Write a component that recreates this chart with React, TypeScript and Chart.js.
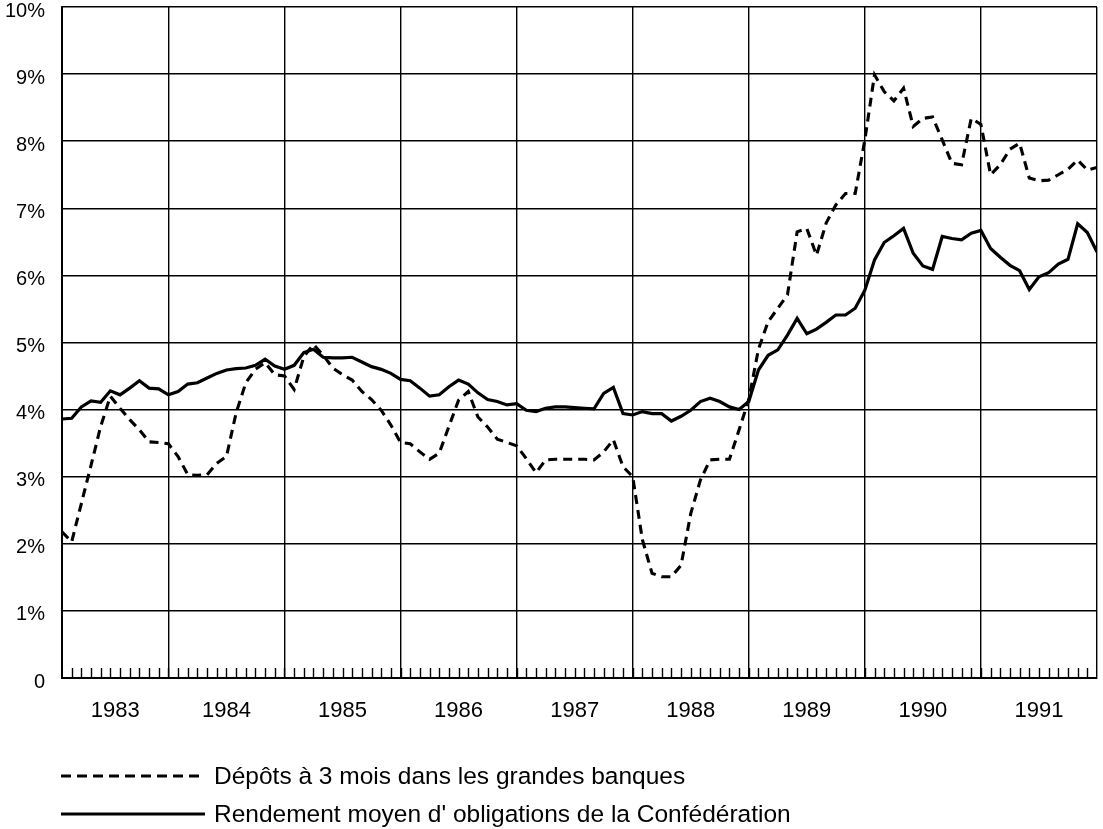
import React, { useEffect, useRef } from 'react';
import { Chart, registerables } from 'chart.js';

Chart.register(...registerables);

// Month-end observations, Jan 1983 .. Dec 1991 (108 values each), in %
const years = ['1983', '1984', '1985', '1986', '1987', '1988', '1989', '1990', '1991'];

const depositRates = [
  2.18, 2.03, 2.6, 3.17, 3.75, 4.2, 4.02, 3.85, 3.7, 3.52, 3.51, 3.49,
  3.3, 3.03, 3.02, 3.03, 3.2, 3.3, 3.95, 4.4, 4.6, 4.7, 4.52, 4.5,
  4.3, 4.79, 4.97, 4.81, 4.62, 4.52, 4.44, 4.27, 4.15, 3.99, 3.77, 3.51,
  3.49, 3.37, 3.26, 3.35, 3.75, 4.14, 4.27, 3.89, 3.74, 3.56, 3.51, 3.46,
  3.27, 3.06, 3.25, 3.26, 3.26, 3.26, 3.26, 3.25, 3.37, 3.55, 3.15, 3.0,
  2.06, 1.56, 1.51, 1.51, 1.68, 2.45, 2.95, 3.25, 3.26, 3.26, 3.7, 4.15,
  4.9, 5.31, 5.51, 5.71, 6.65, 6.7, 6.3, 6.78, 7.05, 7.22, 7.22, 8.02,
  8.99, 8.74, 8.6, 8.79, 8.22, 8.34, 8.36, 8.02, 7.67, 7.65, 8.34, 8.25,
  7.5, 7.65, 7.88, 7.97, 7.45, 7.41, 7.42, 7.5, 7.58, 7.72, 7.57, 7.61,
];

const bondYields = [
  3.86, 3.87, 4.04, 4.13, 4.11, 4.28, 4.22, 4.32, 4.43, 4.32, 4.31, 4.22,
  4.27, 4.38, 4.4, 4.47, 4.54, 4.59, 4.61, 4.62, 4.66, 4.75, 4.65, 4.6,
  4.66, 4.85, 4.9, 4.78, 4.77, 4.77, 4.78, 4.71, 4.64, 4.6, 4.54, 4.45,
  4.43, 4.32, 4.2, 4.22, 4.34, 4.44, 4.38, 4.25, 4.15, 4.12, 4.07, 4.09,
  3.99, 3.97, 4.02, 4.04, 4.04, 4.03, 4.02, 4.01, 4.24, 4.33, 3.94, 3.92,
  3.97, 3.94, 3.94, 3.83, 3.9, 3.99, 4.12, 4.17, 4.12, 4.04, 4.0, 4.12,
  4.59, 4.81, 4.89, 5.11, 5.36, 5.13, 5.2, 5.3, 5.41, 5.41, 5.51, 5.78,
  6.23, 6.49, 6.59, 6.7, 6.33, 6.14, 6.09, 6.58, 6.55, 6.53, 6.63, 6.67,
  6.4, 6.27, 6.15, 6.07, 5.79, 5.98, 6.04, 6.17, 6.24, 6.77, 6.64, 6.35,
];

const yTickLabels = ['0', '1%', '2%', '3%', '4%', '5%', '6%', '7%', '8%', '9%', '10%'];

const seriesLabels = [
  'Dépôts à 3 mois dans les grandes banques',
  "Rendement moyen d' obligations de la Confédération",
];

const FONT = '"Liberation Sans", Arial, Helvetica, sans-serif';
const W = 1103;
const H = 829;

export default function App() {
  const ref = useRef<HTMLCanvasElement>(null);

  useEffect(() => {
    if (!ref.current) return;
    const n = depositRates.length;
    // year boundaries: first observation, then each December
    const boundaries = [0, ...years.map((_, i) => 11 + 12 * i)];

    const decor = {
      id: 'decor',
      afterDraw(chart: any) {
        const { ctx, chartArea, scales } = chart;
        const xs = scales.x;
        ctx.save();
        ctx.strokeStyle = '#000';
        ctx.lineWidth = 1.4;
        for (let i = 1; i < n - 1; i++) {
          const px = Math.round(xs.getPixelForValue(i)) + 0.5;
          ctx.beginPath();
          ctx.moveTo(px, chartArea.bottom);
          ctx.lineTo(px, chartArea.bottom - 10);
          ctx.stroke();
        }
        ctx.fillStyle = '#000';
        ctx.font = `22px ${FONT}`;
        ctx.textAlign = 'center';
        ctx.textBaseline = 'middle';
        years.forEach((y, i) => {
          const a = boundaries[i];
          const b = boundaries[i + 1];
          ctx.fillText(y, xs.getPixelForValue((a + b) / 2), chartArea.bottom + 33);
        });
        ctx.restore();
      },
    };

    const chart = new Chart(ref.current, {
      type: 'line',
      data: {
        datasets: [
          {
            label: seriesLabels[0],
            data: depositRates.map((v, i) => ({ x: i, y: v })),
            borderColor: '#000',
            borderWidth: 3.1,
            borderDash: [9, 6],
            pointRadius: 0,
            tension: 0,
            fill: false,
          },
          {
            label: seriesLabels[1],
            data: bondYields.map((v, i) => ({ x: i, y: v })),
            borderColor: '#000',
            borderWidth: 3.2,
            pointRadius: 0,
            tension: 0,
            fill: false,
          },
        ],
      },
      options: {
        responsive: false,
        animation: false,
        devicePixelRatio: 1,
        layout: { padding: { left: 0, top: 7, right: 6, bottom: 151 } },
        plugins: { legend: { display: false }, tooltip: { enabled: false } },
        scales: {
          x: {
            type: 'linear',
            min: 0,
            max: n - 1,
            afterBuildTicks: (scale: any) => {
              scale.ticks = boundaries.map((v) => ({ value: v }));
            },
            afterFit: (scale: any) => {
              scale.height = 0;
              scale.paddingLeft = 0;
              scale.paddingRight = 0;
            },
            ticks: { display: false },
            grid: { color: '#000', lineWidth: 1.4, drawTicks: false },
            border: { display: true, color: '#000', width: 2 },
          },
          y: {
            min: 0,
            max: 10,
            afterFit: (scale: any) => {
              scale.width = 62;
              scale.paddingTop = 0;
              scale.paddingBottom = 0;
            },
            ticks: {
              stepSize: 1,
              padding: 17,
              labelOffset: 4,
              color: '#000',
              font: { family: FONT, size: 20 },
              callback: (v: any) => yTickLabels[Number(v)] ?? '',
            },
            grid: { color: '#000', lineWidth: 1.4, drawTicks: false },
            border: { display: true, color: '#000', width: 2 },
          },
        },
      },
      plugins: [decor],
    });
    return () => chart.destroy();
  }, []);

  const legendRow = (top: number, dashed: boolean, text: string) => (
    <div style={{ position: 'absolute', left: 0, top: top - 15, height: 30, width: W }}>
      <svg width={150} height={30} style={{ position: 'absolute', left: 60, top: 0 }}>
        <line
          x1={1}
          y1={15}
          x2={145}
          y2={15}
          stroke="#000"
          strokeWidth={dashed ? 2.8 : 3}
          strokeDasharray={dashed ? '10 6' : undefined}
        />
      </svg>
      <div
        style={{
          position: 'absolute',
          left: 214,
          top: 0,
          lineHeight: '30px',
          fontFamily: FONT,
          fontSize: 24.5,
          color: '#000',
          whiteSpace: 'nowrap',
        }}
      >
        {text}
      </div>
    </div>
  );

  return (
    <div style={{ position: 'absolute', left: 0, top: 0, width: W, height: H, background: '#fff' }}>
      <canvas ref={ref} width={W} height={H} style={{ position: 'absolute', left: 0, top: 0 }} />
      {legendRow(776, true, seriesLabels[0])}
      {legendRow(814, false, seriesLabels[1])}
    </div>
  );
}
